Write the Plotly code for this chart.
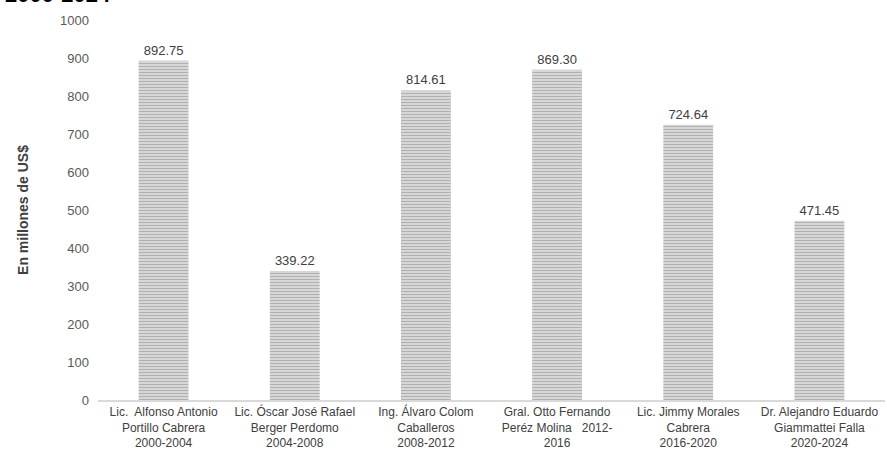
import plotly.graph_objects as go

categories = [
    "Lic.  Alfonso Antonio<br>Portillo Cabrera<br>2000-2004",
    "Lic. Óscar José Rafael<br>Berger Perdomo<br>2004-2008",
    "Ing. Álvaro Colom<br>Caballeros<br>2008-2012",
    "Gral. Otto Fernando<br>Peréz Molina   2012-<br>2016",
    "Lic. Jimmy Morales<br>Cabrera<br>2016-2020",
    "Dr. Alejandro Eduardo<br>Giammattei Falla<br>2020-2024",
]
values = [892.75, 339.22, 814.61, 869.30, 724.64, 471.45]
y_ticks = [0, 100, 200, 300, 400, 500, 600, 700, 800, 900, 1000]

fig = go.Figure(go.Bar(
    x=categories,
    y=values,
    text=[f"{v:.2f}" for v in values],
    textposition="outside",
    textfont=dict(family="Liberation Sans, Arial", size=13, color="#404040"),
    cliponaxis=False,
    marker=dict(
        color="#d9d9d9",
        line=dict(width=0),
        pattern=dict(shape="-", fgcolor="#7f7f7f", bgcolor="#e3e3e3", size=3, solidity=0.5),
    ),
))

fig.update_layout(
    width=887, height=450,
    margin=dict(l=98, r=2, t=20, b=50),
    plot_bgcolor="white", paper_bgcolor="white",
    bargap=0.62,
    showlegend=False,
    font=dict(family="Liberation Sans, Arial", size=13, color="#595959"),
    xaxis=dict(
        showline=True, linecolor="#d9d9d9", linewidth=1.5,
        showgrid=False, ticks="", tickfont=dict(size=12, color="#404040"),
        fixedrange=True, automargin=False,
    ),
    yaxis=dict(
        range=[0, 1000], tickvals=y_ticks, showgrid=False, zeroline=False,
        showline=False, ticks="", ticklabelstandoff=8, automargin=False,
        tickfont=dict(size=13, color="#595959"),
        title=dict(text="<b>En millones de US$</b>", font=dict(size=14, color="#404040"), standoff=28),
    ),
    annotations=[dict(
        text="<b>2000-2024</b>", xref="paper", yref="paper",
        x=0.0191, y=1.029, xanchor="right", yanchor="bottom",
        showarrow=False, font=dict(family="Liberation Sans, Arial", size=22, color="black"),
    )],
)

fig.write_html("out.html")
